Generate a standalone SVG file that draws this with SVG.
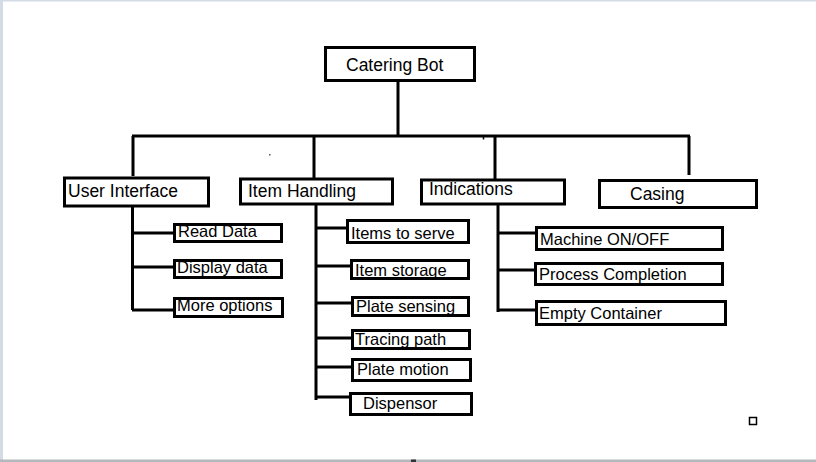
<svg xmlns="http://www.w3.org/2000/svg" width="816" height="462" viewBox="0 0 816 462">
<style>
.box{fill:#fff;stroke:#000;stroke-width:3}
.ln{stroke:#000;stroke-width:3;fill:none}
.t{font-family:"Liberation Sans",Arial,sans-serif;font-size:16.5px;fill:#000}
.h{font-size:17.5px}
</style>
<rect x="0" y="0" width="816" height="462" fill="#fff"/>
<rect x="0" y="0" width="816" height="1.5" fill="#d3dbe6"/>
<rect x="0" y="0" width="3" height="462" fill="#d3dbe6"/>
<rect x="0" y="459.5" width="816" height="2.5" fill="#b4b8bc"/>
<rect x="411" y="459.5" width="5" height="2.5" fill="#333"/>
<g id="connectors">
<path class="ln" d="M398 82V136M132 136H690M133 136V176M314 136V178M495 136V180M689 136V175"/>
<path stroke="#000" stroke-width="1.5" d="M483.5 136V139.5"/>
<path class="ln" d="M132.5 206V310M132 233H173M132 267H173M132 310H173"/>
<path class="ln" d="M316 205V400M316 228H347M316 266H351M316 303H352M316 338H352M316 367H352M316 397H350"/>
<path class="ln" d="M498 204V312M498 233H536M498 270H535M498 310H536"/>
</g>
<rect x="269" y="154" width="1.5" height="1.5" fill="#555"/>
<rect x="749.5" y="417.5" width="7" height="7" fill="none" stroke="#000" stroke-width="1.5"/>
<g id="n-root"><rect class="box" x="325.5" y="47.5" width="149" height="33"/><text class="t h" x="346" y="71">Catering Bot</text></g>
<g id="n-ui"><rect class="box" x="64.5" y="178" width="144" height="28"/><text class="t h" x="68" y="197">User Interface</text></g>
<g id="n-ih"><rect class="box" x="240.5" y="179" width="152" height="25"/><text class="t h" x="248" y="197">Item Handling</text></g>
<g id="n-ind"><rect class="box" x="421.5" y="180" width="143" height="24"/><text class="t h" x="429" y="195">Indications</text></g>
<g id="n-cas"><rect class="box" x="599.5" y="180.5" width="157" height="27"/><text class="t h" x="630" y="200">Casing</text></g>
<g id="n-rd"><rect class="box" x="174.5" y="224.5" width="107" height="17"/><text class="t" x="178" y="237">Read Data</text></g>
<g id="n-dd"><rect class="box" x="174.5" y="260.5" width="107" height="17"/><text class="t" x="177" y="273">Display data</text></g>
<g id="n-mo"><rect class="box" x="174.5" y="298.5" width="108" height="18"/><text class="t" x="177" y="311">More options</text></g>
<g id="n-its"><rect class="box" x="347.5" y="220.5" width="121" height="22"/><text class="t" x="351" y="239">Items to serve</text></g>
<g id="n-ist"><rect class="box" x="351.5" y="260.5" width="117" height="18"/><text class="t" x="355" y="276">Item storage</text></g>
<g id="n-ps"><rect class="box" x="352.5" y="297.5" width="116" height="18"/><text class="t" x="356" y="312">Plate sensing</text></g>
<g id="n-tp"><rect class="box" x="352.5" y="330.5" width="117" height="18"/><text class="t" x="355" y="345">Tracing path</text></g>
<g id="n-pm"><rect class="box" x="352.5" y="359.5" width="118" height="21"/><text class="t" x="357" y="375">Plate motion</text></g>
<g id="n-dis"><rect class="box" x="350.5" y="393.5" width="121" height="21"/><text class="t" x="363" y="409">Dispensor</text></g>
<g id="n-mon"><rect class="box" x="536.5" y="227.5" width="186" height="22"/><text class="t" x="540" y="245">Machine ON/OFF</text></g>
<g id="n-pc"><rect class="box" x="535.5" y="263.5" width="187" height="21"/><text class="t" x="539" y="280">Process Completion</text></g>
<g id="n-ec"><rect class="box" x="536.5" y="301.5" width="189" height="23"/><text class="t" x="539" y="319">Empty Container</text></g>
</svg>
